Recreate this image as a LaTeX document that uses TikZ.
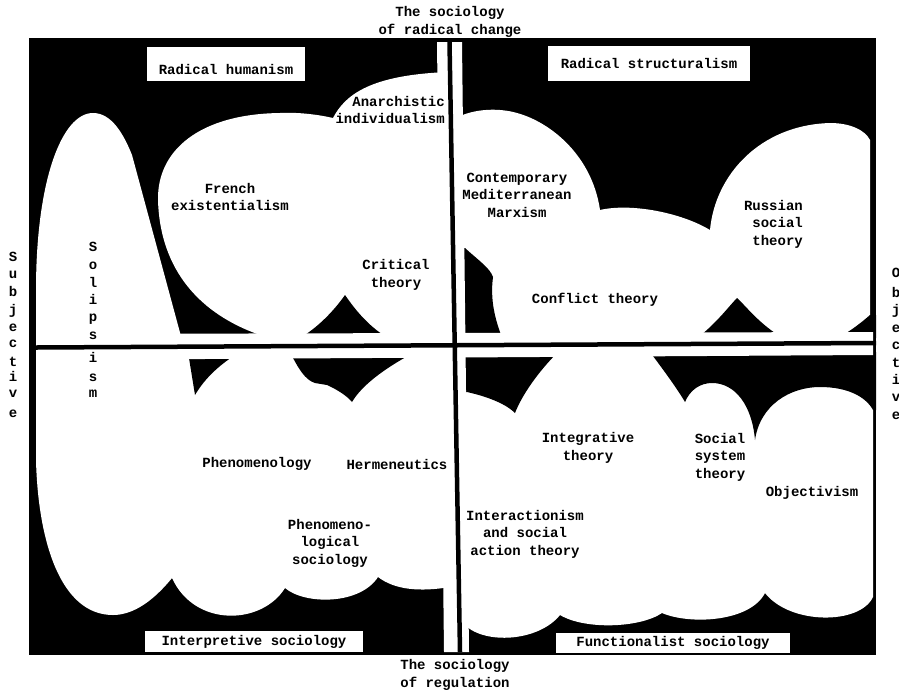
\documentclass[tikz,border=0pt]{standalone}
\usepackage{fontspec}
\setmonofont{Liberation Mono}
\begin{document}
\begin{tikzpicture}[
  x=1pt, y=-1pt,
  font=\ttfamily\bfseries\fontsize{14}{17.5}\selectfont,
  blob/.style={fill=white},
  gap/.style={fill=black},
  band/.style={fill=white},
  axisline/.style={draw=black, line width=4.5pt},
  paradigm/.style={fill=white, inner sep=0pt, minimum height=#1},
  school/.style={align=center, inner sep=1pt},
  letter/.style={anchor=base, inner sep=0pt}
]
\useasboundingbox (0,0) rectangle (899,694);
\fill[black] (29,38) rectangle (876,655);

% radical humanism
\fill[blob] (36,340) -- (36,290) .. controls (36,180) and (62,113) .. (93,113) .. controls (112,113) and (124,135) .. (132,155) -- (182,340) -- cycle;
\fill[blob] (263,340) -- (263,336) .. controls (200,315) and (160,270) .. (158,200) .. controls (157,150) and (200,114) .. (280,113) .. controls (300,112) and (320,115) .. (333,118) .. controls (345,95) and (370,75) .. (448,72) -- (448,340) -- cycle;
\fill[gap] (300,338) .. controls (322,325) and (338,305) .. (345,295) .. controls (352,305) and (366,325) .. (388,338) -- cycle;

% radical structuralism
\fill[blob] (456,340) -- (456,118) .. controls (475,108) and (500,108) .. (517,113) .. controls (550,122) and (592,155) .. (600,210) .. controls (630,203) and (680,212) .. (710,230) .. controls (715,175) and (760,125) .. (830,123) .. controls (850,123) and (865,130) .. (870,140) -- (870,340) -- cycle;
\fill[gap] (455,248) -- (465,248) .. controls (478,260) and (490,268) .. (493,277) .. controls (490,300) and (495,320) .. (503,340) -- (455,340) -- cycle;
\fill[gap] (697,338) .. controls (715,325) and (730,305) .. (737,298) .. controls (745,305) and (760,325) .. (783,338) -- cycle;
\fill[gap] (838,338) .. controls (852,330) and (862,322) .. (870,315) -- (876,315) -- (876,338) -- cycle;

% interpretive sociology
\fill[blob] (36,352) -- (450,352) -- (450,587) .. controls (420,592) and (395,590) .. (378,577) .. controls (360,605) and (305,605) .. (285,588) .. controls (262,625) and (195,628) .. (172,578) .. controls (150,605) and (130,615) .. (113,615) .. controls (60,615) and (38,540) .. (36,460) -- cycle;
\fill[gap] (188,352) -- (195,395) .. controls (205,378) and (220,364) .. (240,352) -- cycle;
\fill[gap] (290,352) .. controls (298,368) and (305,380) .. (315,383) -- (327,385) .. controls (338,390) and (347,396) .. (352,402) .. controls (362,385) and (385,368) .. (415,352) -- cycle;

% functionalist sociology
\fill[blob] (456,352) -- (873,352) -- (873,597) .. controls (860,625) and (790,625) .. (765,593) .. controls (750,622) and (690,625) .. (662,613) .. controls (640,628) and (585,630) .. (560,615) .. controls (540,640) and (490,645) .. (467,627) -- (456,627) -- cycle;
\fill[gap] (455,352) -- (455,392) -- (467,392) .. controls (485,396) and (505,403) .. (515,413) .. controls (522,395) and (538,372) .. (558,352) -- cycle;
\fill[gap] (650,352) .. controls (665,372) and (678,390) .. (685,402) .. controls (690,390) and (700,383) .. (712,383) .. controls (735,383) and (752,405) .. (755,440) .. controls (760,405) and (790,387) .. (820,387) .. controls (848,387) and (866,397) .. (873,410) -- (876,410) -- (876,352) -- cycle;

% axes
\fill[band] (36,334) -- (873,332) -- (873,355) -- (36,360) -- cycle;
\fill[band] (437,42) -- (462,42) -- (469,652) -- (444,652) -- cycle;
\draw[axisline] (36,347.5) -- (876,343);
\draw[axisline] (449.5,42) -- (460,652);

% paradigm boxes
\node[paradigm=0pt, minimum width=158pt, anchor=base, text height=27pt, text depth=7pt] (humanism) at (226,74) {Radical humanism};
\node[paradigm=35pt, minimum width=202pt] (structuralism) at (649,63.5) {Radical structuralism};
\node[paradigm=21pt, minimum width=218pt] (interpretive) at (254,641.5) {Interpretive sociology};
\node[paradigm=20pt, minimum width=234pt] (functionalist) at (673,643) {Functionalist sociology};

% schools
\node[school] (french) at (230,197) {French\\existentialism};
\node[school, align=right, anchor=east] (anarchistic) at (446,110) {Anarchistic\\individualism};
\node[school] (critical) at (396,275) {Critical\\theory};
\node[school] (marxism) at (517,195) {Contemporary\\Mediterranean\\Marxism};
\node[school, align=right, anchor=east] (russian) at (804,224) {Russian\\social\\theory};
\node[school] (conflict) at (595,300) {Conflict theory};
\node[school] (phenomenology) at (257,464) {Phenomenology};
\node[school] (hermeneutics) at (397,464) {Hermeneutics};
\node[school] (phensoc) at (330,543) {Phenomeno-\\logical\\sociology};
\node[school] (integrative) at (588,448) {Integrative\\theory};
\node[school] (socsystem) at (720,457) {Social\\system\\theory};
\node[school] (objectivism) at (812,493) {Objectivism};
\node[school] (interactionism) at (525,534) {Interactionism\\and social\\action theory};

% dimensions
\node[school] (change) at (450,22) {The sociology\\of radical change};
\node[school] (regulation) at (455,675) {The sociology\\of regulation};
\foreach \ch/\y [count=\i] in {S/257,u/274,b/292,j/310,e/327,c/343,t/362,i/377,v/393,e/413}
  \node[letter] (subj-\i) at (13,\y+4) {\ch};
\foreach \ch/\y [count=\i] in {O/273,b/293,j/310,e/328,c/345,t/363,i/380,v/397,e/415}
  \node[letter] (obj-\i) at (896,\y+4) {\ch};
\foreach \ch/\y [count=\i] in {S/247,o/265,l/283,i/300,p/317,s/335,i/358,s/377,m/393}
  \node[letter] (sol-\i) at (93,\y+4) {\ch};
\end{tikzpicture}
\end{document}
